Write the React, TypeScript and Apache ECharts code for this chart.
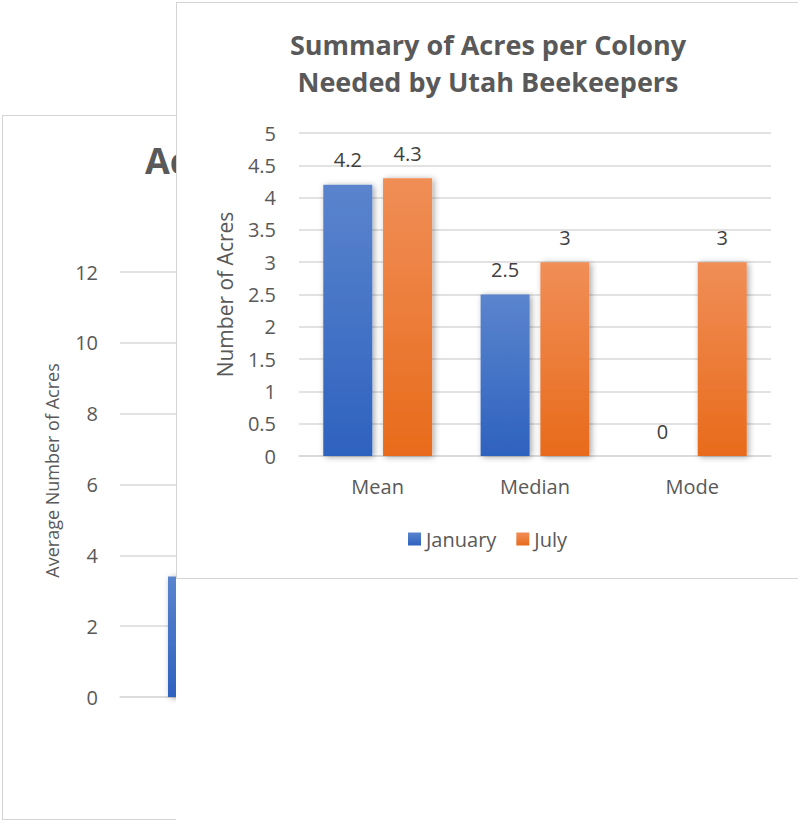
import React, { useEffect, useRef } from "react";
import * as echarts from "echarts";

// Foreground chart data
const categories = ["Mean", "Median", "Mode"];
const january = [4.2, 2.5, 0];
const july = [4.3, 3, 3];
const seriesNames = ["January", "July"];
const fgTitle = "Summary of Acres per Colony\nNeeded by Utah Beekeepers";
const fgYName = "Number of Acres";

// Background (partly hidden) chart data
const bgCategories = [""];
const bgValues = [3.4];
const bgTitle = "Acres";
const bgYName = "Average Number of Acres";

const FONT = "'Open Sans', 'Noto Sans', sans-serif";
const TEXT = "#595959";
const GRID = "#d9d9d9";

const blueGrad = () =>
  new echarts.graphic.LinearGradient(0, 0, 0, 1, [
    { offset: 0, color: "#5b84cd" },
    { offset: 1, color: "#2e62bf" },
  ]);
const orangeGrad = () =>
  new echarts.graphic.LinearGradient(0, 0, 0, 1, [
    { offset: 0, color: "#f08e57" },
    { offset: 1, color: "#e86b1b" },
  ]);

const shadow = {
  shadowBlur: 6,
  shadowColor: "rgba(0,0,0,0.35)",
  shadowOffsetX: 2,
  shadowOffsetY: 1,
};

export default function App() {
  const bgRef = useRef<HTMLDivElement>(null);
  const fgRef = useRef<HTMLDivElement>(null);

  useEffect(() => {
    const bg = echarts.init(bgRef.current!, undefined, { renderer: "svg" });
    bg.setOption({
      animation: false,
      textStyle: { fontFamily: FONT },
      title: {
        text: bgTitle,
        left: 137,
        top: 21,
        textStyle: { fontFamily: FONT, fontWeight: "bold", fontSize: 36, color: TEXT },
      },
      grid: { left: 117, top: 156, width: 145, height: 425 },
      xAxis: {
        type: "category",
        data: bgCategories,
        axisLine: { lineStyle: { color: GRID, width: 1.5 } },
        axisTick: { show: false },
        axisLabel: { show: false },
      },
      yAxis: {
        type: "value",
        min: 0,
        max: 12,
        interval: 2,
        name: bgYName,
        nameLocation: "middle",
        nameGap: 59,
        nameRotate: 90,
        nameTextStyle: {
          fontFamily: FONT,
          fontSize: 18,
          color: TEXT,
          padding: [0, 0, 0, 28],
        },
        axisLabel: { fontFamily: FONT, fontSize: 20, color: TEXT, margin: 22 },
        splitLine: { lineStyle: { color: GRID, width: 1.5 } },
      },
      series: [
        {
          type: "bar",
          data: bgValues,
          barWidth: 49,
          itemStyle: { color: blueGrad(), ...shadow },
        },
      ],
    });

    const fg = echarts.init(fgRef.current!, undefined, { renderer: "svg" });
    fg.setOption({
      animation: false,
      textStyle: { fontFamily: FONT },
      title: {
        text: fgTitle,
        left: 306,
        top: 18,
        textAlign: "center",
        textStyle: {
          fontFamily: FONT,
          fontWeight: "bold",
          fontSize: 27,
          lineHeight: 37,
          color: TEXT,
        },
      },
      legend: {
        data: seriesNames,
        left: 226,
        top: 521,
        icon: "rect",
        itemWidth: 13,
        itemHeight: 13,
        itemGap: 20,
        textStyle: { fontFamily: FONT, fontSize: 20, color: TEXT },
      },
      grid: { left: 122, top: 130, width: 472, height: 323 },
      xAxis: {
        type: "category",
        data: categories,
        axisLine: { lineStyle: { color: GRID, width: 1.5 } },
        axisTick: { show: false },
        axisLabel: { fontFamily: FONT, fontSize: 20, color: TEXT, margin: 20 },
      },
      yAxis: {
        type: "value",
        min: 0,
        max: 5,
        interval: 0.5,
        name: fgYName,
        nameLocation: "middle",
        nameGap: 64,
        nameRotate: 90,
        nameTextStyle: { fontFamily: FONT, fontSize: 21, color: TEXT },
        axisLabel: { fontFamily: FONT, fontSize: 20, color: TEXT, margin: 23 },
        splitLine: { lineStyle: { color: GRID, width: 1.5 } },
      },
      series: [
        {
          name: seriesNames[0],
          type: "bar",
          data: january,
          barWidth: 49,
          barGap: "22%",
          itemStyle: { color: blueGrad(), ...shadow },
          label: {
            show: true,
            position: "top",
            distance: 15,
            fontFamily: FONT,
            fontSize: 20,
            color: "#404040",
          },
        },
        {
          name: seriesNames[1],
          type: "bar",
          data: july,
          barWidth: 49,
          barGap: "22%",
          itemStyle: { color: orangeGrad(), ...shadow },
          label: {
            show: true,
            position: "top",
            distance: 15,
            fontFamily: FONT,
            fontSize: 20,
            color: "#404040",
          },
        },
      ],
    });

    return () => {
      bg.dispose();
      fg.dispose();
    };
  }, []);

  return (
    <div
      style={{
        position: "fixed",
        left: 0,
        top: 0,
        width: 798,
        height: 821,
        overflow: "hidden",
        background: "#ffffff",
      }}
    >
      <div
        style={{
          position: "absolute",
          left: 2,
          top: 115,
          width: 174,
          height: 705,
          boxSizing: "border-box",
          borderLeft: "1px solid #d4d4d4",
          borderTop: "1px solid #d4d4d4",
          borderBottom: "1px solid #d4d4d4",
          overflow: "hidden",
          background: "#ffffff",
        }}
      >
        <div ref={bgRef} style={{ position: "absolute", left: 0, top: 0, width: 600, height: 703 }} />
      </div>
      <div
        style={{
          position: "absolute",
          left: 176,
          top: 2,
          width: 640,
          height: 577,
          boxSizing: "border-box",
          border: "1px solid #d4d4d4",
          background: "#ffffff",
          zIndex: 2,
        }}
      >
        <div ref={fgRef} style={{ position: "absolute", left: 0, top: 0, width: 638, height: 575 }} />
      </div>
    </div>
  );
}
